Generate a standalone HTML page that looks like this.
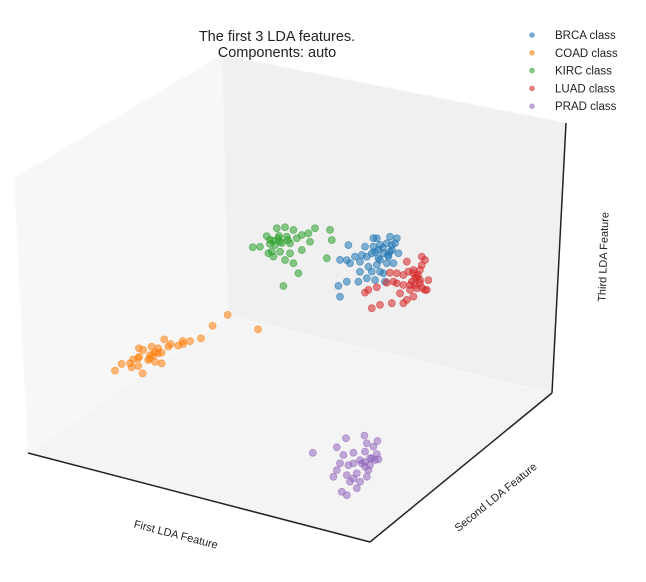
<!DOCTYPE html>
<html><head><meta charset="utf-8"><style>
body{margin:0;background:#fff;}
svg{display:block;font-family:"Liberation Sans",sans-serif;}
</style></head><body>
<svg id="chart" width="646" height="582" viewBox="0 0 646 582">
  <g>
    <polygon points="14,178 222,55 228,316 28,453" fill="#f7f7f7" stroke="#fbfbfb"/>
    <polygon points="222,55 566,123 552,393 228,316" fill="#f0f0f0" stroke="#f6f6f6"/>
    <polygon points="28,453 228,316 552,393 370,542" fill="#f4f4f4" stroke="#f8f8f8"/>
    <line x1="28" y1="453" x2="370" y2="542" stroke="#222" stroke-width="1.5"/>
    <line x1="370" y1="542" x2="552" y2="393" stroke="#222" stroke-width="1.5"/>
    <line x1="552" y1="393" x2="566" y2="123" stroke="#222" stroke-width="1.5"/>
  </g>
  <g id="points"></g>
  <text x="277" y="41" font-size="14.5" text-anchor="middle" fill="#222">The first 3 LDA features.</text>
  <text x="277" y="57" font-size="14.5" text-anchor="middle" fill="#222">Components: auto</text>
  <text x="175" y="538" font-size="11" text-anchor="middle" fill="#222" transform="rotate(14.5 175 538)">First LDA Feature</text>
  <text x="498" y="500" font-size="11" text-anchor="middle" fill="#222" transform="rotate(-39 498 500)">Second LDA Feature</text>
  <text x="607" y="257" font-size="11" text-anchor="middle" fill="#222" transform="rotate(-88 607 257)">Third LDA Feature</text>
  <g id="legend"></g>
</svg>
<script>
const classNames = ["BRCA class","COAD class","KIRC class","LUAD class","PRAD class"];
const classColors = ["#1f77b4","#ff7f0e","#2ca02c","#d62728","#9467bd"];
const brcaF1 = [5.6,5.52,5.6,5.94,6.1,6.02,5.94,6.52,6.6,6.6,6.85,6.94,7.19,7.27,7.44,7.52,7.6,7.77,7.94,8.19,8.44,8.1,8.52,8.27,7.94,7.77,7.35,6.94,7.02,7.44,7.6,8.02,7.19,6.69,7.85,7.27,8.1,8.35,6.35,7.52,7.75,8.0,7.6,7.35,8.2];
const brcaF3 = [2.42,2.94,4.26,4.34,4.22,5.11,3.26,3.41,3.93,4.43,5.25,4.77,5.0,5.78,5.82,5.26,4.78,5.16,5.7,5.68,6.08,6.07,5.35,4.79,4.7,4.16,3.71,3.69,4.29,4.49,4.19,5.05,4.09,4.79,3.76,5.36,5.32,5.81,4.62,4.84,5.42,5.13,5.53,5.11,5.43];
const coadF1 = [-0.02,-0.77,1.5,-1.35,-1.9,-2.27,-2.49,-2.87,-3.19,-2.99,-3.32,-3.49,-3.74,-3.9,-3.82,-4.24,-4.45,-4.49,-4.74,-4.9,-5.32,-5.65,-4.82,-4.49,-4.27,-3.32,-3.65,-3.99,-3.49,-2.24,-4.44,-3.65,-3.9];
const coadF3 = [0.05,-0.69,-0.28,-1.47,-1.75,-1.84,-2.13,-2.15,-2.0,-2.31,-2.7,-2.77,-2.92,-3.13,-2.53,-2.8,-2.77,-3.28,-3.4,-3.64,-3.78,-4.2,-3.82,-3.67,-3.98,-3.23,-3.24,-3.24,-2.52,-1.98,-3.19,-2.75,-2.97];
const kircF1 = [1.24,1.94,2.1,2.44,2.85,3.27,4.35,5.1,5.19,3.69,4.02,4.1,3.1,2.6,2.27,2.02,2.27,2.6,3.1,3.69,2.85,3.27,3.52,2.77,4.94,2.94,2.52,3.44,2.19,1.6,2.35,2.7,2.1,2.55,3.0];
const kircF3 = [3.76,4.5,4.35,5.02,5.18,5.15,5.52,5.63,5.15,5.01,5.18,4.78,4.44,4.39,4.36,3.66,3.56,3.89,3.94,4.26,3.54,3.49,3.05,2.22,4.17,4.73,4.54,4.78,3.79,3.88,4.16,4.35,4.15,4.67,4.58];
const luadF1 = [7.19,7.44,7.6,8.19,6.85,7.02,8.1,8.44,8.77,8.94,9.27,9.44,9.6,9.69,9.85,10.02,9.85,9.44,9.1,8.94,8.77,8.6,8.44,8.27,9.19,9.27,9.02,9.6,9.94,9.27,8.77,9.35,7.94,9.69,9.35,9.6,9.1,9.5,9.7];
const luadF3 = [2.26,3.37,2.53,2.77,2.95,3.13,4.27,4.33,4.33,5.04,4.71,4.42,4.3,5.49,5.36,4.4,3.86,3.84,3.67,3.13,2.92,3.37,3.83,3.87,4.1,4.55,4.56,4.8,3.89,3.38,3.83,3.98,3.73,5.07,4.33,4.15,3.92,4.52,3.92];
const pradF1 = [4.24,5.44,5.9,6.82,7.47,6.94,7.27,6.27,5.77,6.85,7.44,7.19,6.6,6.27,6.02,5.44,5.27,5.94,6.27,6.6,6.94,6.44,6.85,7.1,7.35,7.52,6.1,5.69,5.94,6.44,7.02,6.69,5.6,7.1,6.85];
const pradF3 = [-5.74,-5.15,-4.58,-4.21,-4.31,-4.56,-4.65,-5.21,-5.45,-5.0,-4.97,-5.25,-5.49,-5.74,-5.89,-6.29,-6.67,-6.41,-6.49,-6.57,-6.23,-6.19,-5.76,-5.61,-5.29,-5.21,-6.7,-7.31,-7.41,-6.94,-5.88,-5.63,-5.91,-5.26,-5.52];

// projection (f2 depth taken as 0 plane)
function projX(f1){ return 228 + 20*f1; }
function projY(f1,f3){ return 316 + 5.2*f1 - 20*f3; }

const NS = "http://www.w3.org/2000/svg";
const g = document.getElementById("points");
const series = [[brcaF1,brcaF3],[coadF1,coadF3],[kircF1,kircF3],[luadF1,luadF3],[pradF1,pradF3]];
const seriesNames = ["brca","coad","kirc","luad","prad"];
series.forEach(function(s, k){
  const grp = document.createElementNS(NS,"g");
  
  
  g.appendChild(grp);
  for (let i=0;i<s[0].length;i++){
    const c = document.createElementNS(NS,"circle");
    
    
    c.setAttribute("cx", projX(s[0][i]));
    c.setAttribute("cy", projY(s[0][i], s[1][i]));
    c.setAttribute("r", 3.5);
    c.setAttribute("fill", classColors[k]);
    c.setAttribute("fill-opacity", 0.55);
    c.setAttribute("stroke", classColors[k]);
    c.setAttribute("stroke-opacity", 0.6);
    c.setAttribute("stroke-width", 0.8);
    grp.appendChild(c);
  }
});

const lg = document.getElementById("legend");
classNames.forEach(function(n, k){
  const y = 35 + k*17.8;
  const m = document.createElementNS(NS,"circle");
  
  
  m.setAttribute("cx", 532); m.setAttribute("cy", y); m.setAttribute("r", 2.8);
  m.setAttribute("fill", classColors[k]); m.setAttribute("fill-opacity", 0.6);
  lg.appendChild(m);
  const t = document.createElementNS(NS,"text");
  
  
  t.setAttribute("x", 555); t.setAttribute("y", y+4);
  t.setAttribute("font-size", 11.5); t.setAttribute("fill", "#222");
  t.textContent = n;
  lg.appendChild(t);
});
</script>
</body></html>
